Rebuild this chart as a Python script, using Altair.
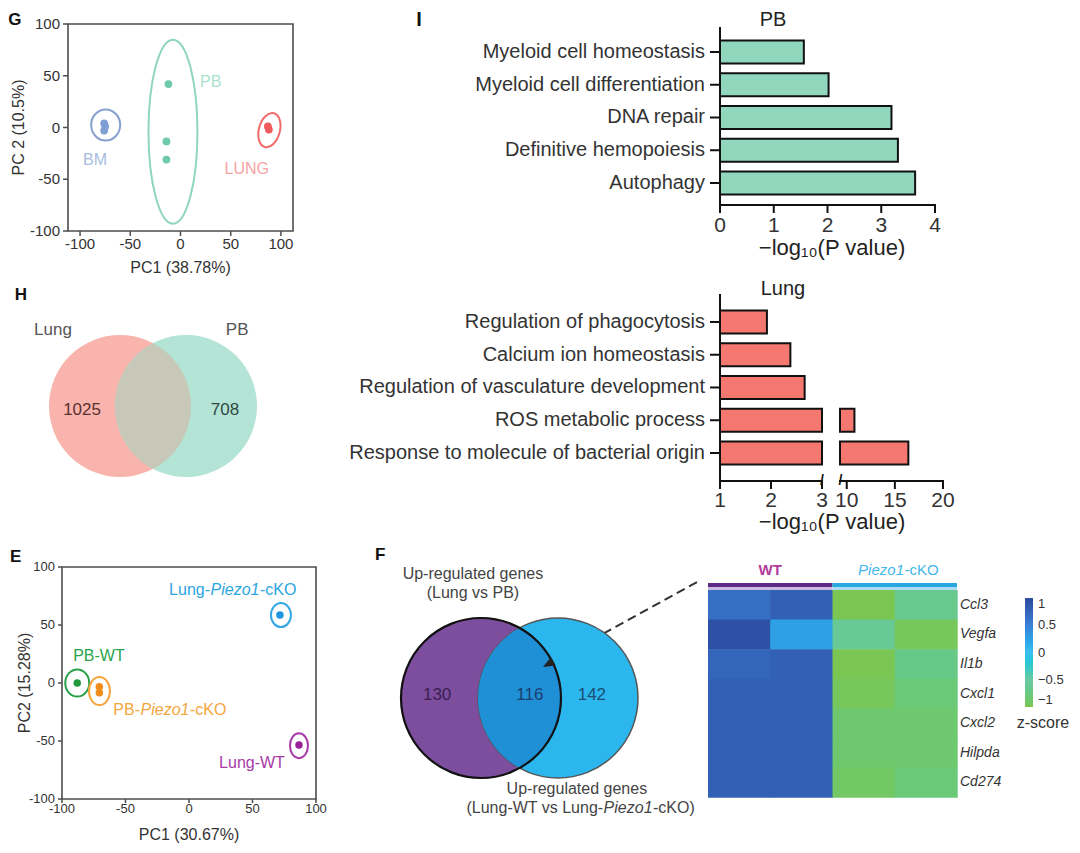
import altair as alt
import pandas as pd

PAD = 5
W, H = 1064 - 2 * PAD, 837 - 2 * PAD
FONT = "Liberation Sans"
INK = "#333333"


def px(v):
    """page pixel -> chart pixel (8px page margin + padding)"""
    return v - 8 - PAD


# ============================ DATA ============================
# G : PCA of BM / PB / LUNG samples
g_group = ["BM", "BM", "BM", "PB", "PB", "PB", "LUNG", "LUNG"]
g_pc1 = [-76, -75, -76, -12, -14, -14, 87, 88]
g_pc2 = [4, 1, -3, 42, -13.5, -31, 1, -2]
g_ell_group = ["BM", "PB", "LUNG"]
g_ell_pc1 = [-74.5, -7.5, 88.5]
g_ell_pc2 = [2.4, -4.0, -2.5]
g_ticks = [-100, -50, 0, 50, 100]

# I : GO enrichment (-log10 P)
pb_terms = ["Myeloid cell homeostasis", "Myeloid cell differentiation", "DNA repair",
            "Definitive hemopoiesis", "Autophagy"]
pb_vals = [1.56, 2.02, 3.19, 3.31, 3.63]
pb_ticks = [0, 1, 2, 3, 4]
lung_terms = ["Regulation of phagocytosis", "Calcium ion homeostasis",
              "Regulation of vasculature development", "ROS metabolic process",
              "Response to molecule of bacterial origin"]
lung_vals = [1.92, 2.38, 2.66, 10.8, 16.4]
lung_ticks_low = [1, 2, 3]
lung_ticks_high = [10, 15, 20]
lung_low_dom = [1, 3]
lung_high_dom = [9.3, 20]

# H : Venn
h_sets = ["Lung", "PB"]
h_only = [1025, 708]

# E : PCA WT / Piezo1-cKO
e_group = ["PB-WT", "PB-Piezo1-cKO", "PB-Piezo1-cKO", "Lung-Piezo1-cKO", "Lung-WT"]
e_pc1 = [-88, -70.6, -70.6, 71.6, 86.6]
e_pc2 = [0, -3.2, -8.4, 58.6, -53.4]
e_ell_group = ["PB-WT", "PB-Piezo1-cKO", "Lung-Piezo1-cKO", "Lung-WT"]
e_ell_pc1 = [-88, -70.5, 72.4, 86.6]
e_ell_pc2 = [0, -7, 58.6, -54]

# F : Venn + heatmap
f_counts = [130, 116, 142]
hm_genes = ["Ccl3", "Vegfa", "Il1b", "Cxcl1", "Cxcl2", "Hilpda", "Cd274"]
hm_samples = ["WT-1", "WT-2", "cKO-1", "cKO-2"]
hm_z = [
    [0.65, 0.80, -1.00, -0.65],
    [0.95, 0.25, -0.60, -0.95],
    [0.75, 0.80, -1.00, -0.70],
    [0.80, 0.80, -0.95, -0.80],
    [0.80, 0.80, -0.85, -0.85],
    [0.80, 0.80, -0.85, -0.85],
    [0.80, 0.80, -0.90, -0.80],
]
z_ticks = [1, 0.5, 0, -0.5, -1]

# ============================ STYLE ============================
G_POINT = {"BM": "#7f9fd4", "PB": "#6ecaa8", "LUNG": "#f05a5a"}
G_LINE = {"BM": "#86a0cf", "PB": "#8fd6bc", "LUNG": "#f26b6b"}
G_TEXT = {"BM": "#a7bce0", "PB": "#a8e2cd", "LUNG": "#f6a3a3"}
G_ELL = {"BM": (14.5, 15.5, 0), "PB": (24.5, 92, 0), "LUNG": (10.5, 17.5, 15)}
G_LAB = {"BM": (-85, -31), "PB": (30, 43.5), "LUNG": (66, -40.5)}

E_POINT = {"PB-WT": "#1f9a3c", "PB-Piezo1-cKO": "#f08c1a", "Lung-Piezo1-cKO": "#1f96e0", "Lung-WT": "#99209b"}
E_LINE = {"PB-WT": "#2aa04a", "PB-Piezo1-cKO": "#f6a43c", "Lung-Piezo1-cKO": "#35a8e8", "Lung-WT": "#a83aa8"}
E_TEXT = {"PB-WT": "#2aa34a", "PB-Piezo1-cKO": "#f4a640", "Lung-Piezo1-cKO": "#2ba6e0", "Lung-WT": "#a63aa6"}
E_ELL = {"PB-WT": (12, 13.5), "PB-Piezo1-cKO": (10.5, 14), "Lung-Piezo1-cKO": (10, 12), "Lung-WT": (9, 12.5)}
E_LAB = {"PB-WT": (-70.9, 23.3), "Lung-WT": (49.6, -69), "Lung-Piezo1-cKO": (36.2, 80),
         "PB-Piezo1-cKO": (-18.9, -23.3)}

PB_FILL = "#91d7be"
LUNG_FILL = "#f47870"
BAR_HALF = 0.351
CAT_SIZE = 20
TICK_SIZE = 21
H_PINK, H_GREEN, H_LENS = "#f9b4ad", "#b4e4d6", "#c7c8b8"
F_PURPLE, F_BLUE, F_LENS = "#7d4d9e", "#2bb6ee", "#1f8fd6"
HM_COLORS = ["#7bc652", "#6bc9a2", "#3dbff0", "#3a80d6", "#2c4c9e"]
FRAME = "#4d4d4d"
BLACK = "#111111"

one = pd.DataFrame({"k": [0]})


def qscale(domain, rng):
    return alt.Scale(domain=domain, range=rng, nice=False, zero=False)


def ellipse_path(rx, ry):
    a = rx / ry
    return f"M {-a:.4f} 0 A {a:.4f} 1 0 1 0 {a:.4f} 0 A {a:.4f} 1 0 1 0 {-a:.4f} 0 Z"


def lens_path(r, d):
    h = ((r * r - (d / 2) ** 2) ** 0.5) / r
    return f"M 0 {-h:.4f} A 1 1 0 0 1 0 {h:.4f} A 1 1 0 0 1 0 {-h:.4f} Z"


ARROW_HEAD = "M 0 -1 L 0.7 0.7 L -0.7 0.7 Z"


def xy(xs, ys, xf="x", yf="y"):
    return dict(x=alt.X(f"{xf}:Q", scale=xs, axis=None), y=alt.Y(f"{yf}:Q", scale=ys, axis=None))


def texts(df, xs, ys, size, weight="normal", style="normal", align="center", dx=0, dy=0, angle=0):
    return alt.Chart(df).mark_text(font=FONT, fontSize=size, fontWeight=weight, fontStyle=style,
                                   align=align, baseline="middle", dx=dx, dy=dy, angle=angle).encode(
        text=alt.Text("text:N"), color=alt.Color("color:N", scale=None), **xy(xs, ys))


def note(t, x, y, xs, ys, size, color=INK, **kw):
    df = pd.DataFrame({"text": [t], "x": [x], "y": [y], "color": [color]})
    return texts(df, xs, ys, size, **kw)


def piezo_texts(df, xs, ys, size):
    half = 3.057 * size / 2 + 0.5
    enc = dict(color=alt.Color("color:N", scale=None), **xy(xs, ys))
    base = alt.Chart(df)
    pre = base.mark_text(font=FONT, fontSize=size, align="right", baseline="middle", dx=-half).encode(
        text="pre:N", **enc)
    mid = base.mark_text(font=FONT, fontSize=size, fontStyle="italic", align="center", baseline="middle").encode(
        text="mid:N", **enc)
    suf = base.mark_text(font=FONT, fontSize=size, align="left", baseline="middle", dx=half).encode(
        text="suf:N", **enc)
    return [pre, mid, suf]


def split_piezo(name):
    if "Piezo1" in name:
        a, b = name.split("Piezo1")
        return a, "Piezo1", b
    return name, "", ""


def ellipses(groups, cx, cy, radii, colors, xs, ys, sw=2):
    df = pd.DataFrame({"x": cx, "y": cy})
    df["shape"] = [ellipse_path(radii[g][0], radii[g][1]) for g in groups]
    df["size"] = [(2 * radii[g][1]) ** 2 for g in groups]
    df["angle"] = [radii[g][2] if len(radii[g]) > 2 else 0 for g in groups]
    df["color"] = [colors[g] for g in groups]
    return alt.Chart(df).mark_point(filled=False, strokeWidth=sw, opacity=1).encode(
        shape=alt.Shape("shape:N", scale=None), size=alt.Size("size:Q", scale=None),
        angle=alt.Angle("angle:Q", scale=None), color=alt.Color("color:N", scale=None), **xy(xs, ys))


def letter(t, x, y, xs, ys, size=17):
    return note(t, x, y, xs, ys, size, color=BLACK, weight="bold")


def frame(x0, x1, y0, y1, xs, ys, color=FRAME, width=1.6):
    return alt.Chart(one).mark_rect(fillOpacity=0, stroke=color, strokeWidth=width).encode(
        x=alt.XDatum(x0, scale=xs, axis=None), x2=alt.datum(x1),
        y=alt.YDatum(y0, scale=ys, axis=None), y2=alt.datum(y1))


def hline(x0, x1, y, xs, ys, color=BLACK, width=2):
    return alt.Chart(one).mark_rule(color=color, strokeWidth=width, strokeCap="square").encode(
        x=alt.XDatum(x0, scale=xs, axis=None), x2=alt.datum(x1), y=alt.YDatum(y, scale=ys, axis=None))


def vline(x, y0, y1, xs, ys, color=BLACK, width=2):
    return alt.Chart(one).mark_rule(color=color, strokeWidth=width, strokeCap="square").encode(
        x=alt.XDatum(x, scale=xs, axis=None), y=alt.YDatum(y0, scale=ys, axis=None), y2=alt.datum(y1))


def ticks_x(vals, xs, ys, y_at, length, width, label_dy, size, color, labels=None):
    df = pd.DataFrame({"v": vals, "text": labels if labels is not None else [str(v) for v in vals]})
    enc = dict(x=alt.X("v:Q", scale=xs, axis=None), y=alt.YDatum(y_at, scale=ys, axis=None))
    t = alt.Chart(df).mark_tick(orient="vertical", size=length, thickness=width, yOffset=length / 2,
                                color=color, opacity=1).encode(**enc)
    lab = alt.Chart(df).mark_text(font=FONT, fontSize=size, dy=label_dy, color=INK,
                                  baseline="middle").encode(text="text:N", **enc)
    return [t, lab]


def ticks_y(vals, xs, ys, x_at, length, width, label_dx, size, color, labels=None):
    df = pd.DataFrame({"v": vals, "text": labels if labels is not None else [str(v) for v in vals]})
    enc = dict(y=alt.Y("v:Q", scale=ys, axis=None), x=alt.XDatum(x_at, scale=xs, axis=None))
    t = alt.Chart(df).mark_tick(orient="horizontal", size=length, thickness=width, xOffset=-length / 2,
                                color=color, opacity=1).encode(**enc)
    lab = alt.Chart(df).mark_text(font=FONT, fontSize=size, dx=label_dx, align="right", color=INK,
                                  baseline="middle").encode(text="text:N", **enc)
    return [t, lab]


# ============================ PANEL G ============================
gx = qscale([-112, 112], [px(68), px(293)])
gy = qscale([-100, 100], [px(231), px(24)])
g_df = pd.DataFrame({"grp": g_group, "x": g_pc1, "y": g_pc2})
g_df["color"] = g_df["grp"].map(G_POINT)
g_lab = pd.DataFrame({"text": g_ell_group, "x": [G_LAB[g][0] for g in g_ell_group],
                      "y": [G_LAB[g][1] for g in g_ell_group], "color": [G_TEXT[g] for g in g_ell_group]})
g_panel = alt.layer(
    frame(-112, 112, -100, 100, gx, gy),
    *ticks_x(g_ticks, gx, gy, -100, 5, 1.5, 13, 15, FRAME),
    *ticks_y(g_ticks, gx, gy, -112, 5, 1.5, -8, 15, FRAME),
    note("PC1 (38.78%)", 0, -100, gx, gy, 16, dy=37),
    note("PC 2 (10.5%)", -161, 0, gx, gy, 16, angle=270),
    ellipses(g_ell_group, g_ell_pc1, g_ell_pc2, G_ELL, G_LINE, gx, gy),
    alt.Chart(g_df).mark_circle(size=60, opacity=1).encode(color=alt.Color("color:N", scale=None), **xy(gx, gy)),
    texts(g_lab, gx, gy, 16),
    letter("G", -165, 104, gx, gy),
)

# ============================ PANEL I (PB) ============================
pbx = qscale([0, 4], [px(720), px(935)])
pby = qscale([-0.733, 4.672], [px(28), px(205)])
pb_df = pd.DataFrame({"term": pb_terms, "v": pb_vals, "i": range(len(pb_terms))})
pb_df["start"] = 0
pb_df["y0"] = pb_df["i"] - BAR_HALF
pb_df["y1"] = pb_df["i"] + BAR_HALF
pb_panel = alt.layer(
    alt.Chart(pb_df).mark_rect(fill=PB_FILL, stroke=BLACK, strokeWidth=2).encode(
        x=alt.X("start:Q", scale=pbx, axis=None), x2="v:Q",
        y=alt.Y("y0:Q", scale=pby, axis=None), y2="y1:Q"),
    vline(0, -0.733, 4.672, pbx, pby),
    hline(0, 4, 4.672, pbx, pby),
    *ticks_x(pb_ticks, pbx, pby, 4.672, 8, 2, 21, TICK_SIZE, BLACK),
    *ticks_y(list(range(len(pb_terms))), pbx, pby, 0, 10, 2, -15, CAT_SIZE, BLACK, labels=pb_terms),
    note("PB", 0.986, -0.99, pbx, pby, 20, color="#222"),
    note("I", -5.6, -0.99, pbx, pby, 20, color=BLACK, weight="bold"),
    note("\u2212log\u2081\u2080(P value)", 2.084, 4.672, pbx, pby, 22, color="#222", dy=43),
)

# ============================ PANEL I (Lung, broken axis) ============================
lx1 = qscale(lung_low_dom, [px(720), px(822)])
lx2 = qscale(lung_high_dom, [px(840), px(943)])
LY = [-0.824, 4.855]
ly = qscale(LY, [px(295), px(481)])
idx = list(range(len(lung_terms)))
low_df = pd.DataFrame({"term": lung_terms, "i": idx, "start": lung_low_dom[0],
                       "end": [min(v, lung_low_dom[1]) for v in lung_vals]})
low_df["y0"] = low_df["i"] - BAR_HALF
low_df["y1"] = low_df["i"] + BAR_HALF
high_df = low_df[[v > lung_low_dom[1] for v in lung_vals]].copy()
high_df["start"] = lung_high_dom[0]
high_df["end"] = [v for v in lung_vals if v > lung_low_dom[1]]
lung_left = alt.layer(
    alt.Chart(low_df).mark_rect(fill=LUNG_FILL, stroke=BLACK, strokeWidth=2).encode(
        x=alt.X("start:Q", scale=lx1, axis=None), x2="end:Q",
        y=alt.Y("y0:Q", scale=ly, axis=None), y2="y1:Q"),
    vline(lung_low_dom[0], LY[0], LY[1], lx1, ly),
    hline(lung_low_dom[0], lung_low_dom[1], LY[1], lx1, ly),
    *ticks_x(lung_ticks_low, lx1, ly, LY[1], 8, 2, 20, TICK_SIZE, BLACK),
    *ticks_y(idx, lx1, ly, lung_low_dom[0], 10, 2, -15, CAT_SIZE, BLACK, labels=lung_terms),
    note("Lung", 2.235, -1.02, lx1, ly, 20, color="#222"),
    note("/", lung_low_dom[1], LY[1], lx1, ly, 14, color=BLACK, weight="bold"),
)
lung_right = alt.layer(
    alt.Chart(high_df).mark_rect(fill=LUNG_FILL, stroke=BLACK, strokeWidth=2).encode(
        x=alt.X("start:Q", scale=lx2, axis=None), x2="end:Q",
        y=alt.Y("y0:Q", scale=ly, axis=None), y2="y1:Q"),
    hline(lung_high_dom[0], lung_high_dom[1], LY[1], lx2, ly),
    *ticks_x(lung_ticks_high, lx2, ly, LY[1], 8, 2, 20, TICK_SIZE, BLACK),
    note("/", lung_high_dom[0] + 0.05, LY[1], lx2, ly, 14, color=BLACK, weight="bold"),
    note("\u2212log\u2081\u2080(P value)", 8.47, LY[1], lx2, ly, 22, color="#222", dy=41),
)

# ============================ PANEL H ============================
hx = qscale([-1, 1], [px(120), px(186)])
hy = qscale([-1, 1], [px(439), px(373)])
h_circ = pd.DataFrame({"x": [-1, 1], "y": [0, 0], "color": [H_PINK, H_GREEN]})
h_lab = pd.DataFrame({"text": h_sets, "x": [-3.03, 2.55], "y": [2.3, 2.3], "color": ["#555", "#555"]})
h_num = pd.DataFrame({"text": [str(v) for v in h_only], "x": [-2.15, 2.18], "y": [-0.12, -0.12],
                      "color": ["#5b3030", "#2e4a44"]})
h_panel = alt.layer(
    alt.Chart(h_circ).mark_point(shape="circle", filled=True, size=142 ** 2, opacity=1).encode(
        color=alt.Color("color:N", scale=None), **xy(hx, hy)),
    alt.Chart(one).mark_point(shape=lens_path(71, 66), filled=True, size=142 ** 2, opacity=1,
                              color=H_LENS).encode(
        x=alt.XDatum(0, scale=hx, axis=None), y=alt.YDatum(0, scale=hy, axis=None)),
    texts(h_lab, hx, hy, 17),
    texts(h_num, hx, hy, 17),
    letter("H", -4.0, 3.36, hx, hy),
)

# ============================ PANEL E ============================
ex = qscale([-100, 100], [px(62), px(316)])
ey = qscale([-100, 100], [px(799), px(567)])
e_df = pd.DataFrame({"grp": e_group, "x": e_pc1, "y": e_pc2})
e_df["color"] = e_df["grp"].map(E_POINT)
e_lab = pd.DataFrame({"name": e_ell_group})
e_lab["x"] = [E_LAB[g][0] for g in e_ell_group]
e_lab["y"] = [E_LAB[g][1] for g in e_ell_group]
e_lab["color"] = [E_TEXT[g] for g in e_ell_group]
parts = [split_piezo(g) for g in e_ell_group]
e_lab["pre"] = [p[0] for p in parts]
e_lab["mid"] = [p[1] for p in parts]
e_lab["suf"] = [p[2] for p in parts]
e_plain = e_lab[e_lab["mid"] == ""].rename(columns={"pre": "text"})
e_piezo = e_lab[e_lab["mid"] != ""]
e_panel = alt.layer(
    frame(-100, 100, -100, 100, ex, ey),
    *ticks_x(g_ticks, ex, ey, -100, 4, 1.5, 10, 13, FRAME),
    *ticks_y(g_ticks, ex, ey, -100, 4, 1.5, -7, 13, FRAME),
    note("PC1 (30.67%)", 0, -100, ex, ey, 16, dy=36),
    note("PC2 (15.28%)", -129, 0, ex, ey, 16, angle=270),
    ellipses(e_ell_group, e_ell_pc1, e_ell_pc2, E_ELL, E_LINE, ex, ey),
    alt.Chart(e_df).mark_circle(size=56, opacity=1).encode(color=alt.Color("color:N", scale=None), **xy(ex, ey)),
    texts(e_plain, ex, ey, 16),
    *piezo_texts(e_piezo, ex, ey, 16),
    letter("E", -136.5, 108.5, ex, ey),
)

# ============================ PANEL F (Venn) ============================
fx = qscale([-1, 1], [px(481), px(558)])
fy = qscale([-1, 1], [px(736.5), px(659.5)])
f_circ = pd.DataFrame({"x": [-1, 1], "y": [0, 0], "color": [F_PURPLE, F_BLUE]})
f_num = pd.DataFrame({"text": [str(v) for v in f_counts], "x": [-2.14, 0.27, 1.88], "y": [0.08] * 3,
                      "color": ["#3a1f52", "#1a3f6e", "#1d4f73"]})
f_txt = pd.DataFrame({"text": ["Up-regulated genes", "(Lung vs PB)", "Up-regulated genes"],
                      "x": [-1.21, -1.21, 1.49], "y": [3.22, 2.73, -2.36], "color": ["#444"] * 3})
f_piezo = pd.DataFrame({"pre": ["(Lung-WT vs Lung-"], "mid": ["Piezo1"], "suf": ["-cKO)"],
                        "x": [2.82], "y": [-2.86], "color": ["#444"]})
arrow = pd.DataFrame({"x": [4.61], "y": [3.01], "x2": [0.769], "y2": [0.894], "angle": [241]})
FS = 25600
f_panel = alt.layer(
    alt.Chart(arrow).mark_rule(stroke="#333", strokeWidth=2, strokeDash=[9, 5]).encode(
        x=alt.X("x:Q", scale=fx, axis=None), y=alt.Y("y:Q", scale=fy, axis=None), x2="x2:Q", y2="y2:Q"),
    alt.Chart(f_circ).mark_point(shape="circle", filled=True, size=FS, opacity=1).encode(
        color=alt.Color("color:N", scale=None), **xy(fx, fy)),
    alt.Chart(f_circ.iloc[[1]]).mark_point(shape="circle", filled=False, size=FS, opacity=1,
                                           color="#555", strokeWidth=1.5).encode(**xy(fx, fy)),
    alt.Chart(one).mark_point(shape=lens_path(80, 77), filled=True, size=FS, opacity=1, color=F_LENS).encode(
        x=alt.XDatum(0, scale=fx, axis=None), y=alt.YDatum(0, scale=fy, axis=None)),
    alt.Chart(f_circ.iloc[[0]]).mark_point(shape="circle", filled=False, size=FS, opacity=1,
                                           color=BLACK, strokeWidth=2.2).encode(**xy(fx, fy)),
    alt.Chart(arrow).mark_point(shape=ARROW_HEAD, filled=True, size=196, opacity=1, color="#222").encode(
        x=alt.X("x2:Q", scale=fx, axis=None), y=alt.Y("y2:Q", scale=fy, axis=None),
        angle=alt.Angle("angle:Q", scale=None)),
    texts(f_num, fx, fy, 17),
    texts(f_txt, fx, fy, 16),
    *piezo_texts(f_piezo, fx, fy, 16),
    letter("F", -3.62, 3.71, fx, fy),
)

# ============================ PANEL F (heatmap) ============================
hmx = qscale([0, 4], [px(708), px(957)])
hmy = qscale([0, 7], [px(590), px(797)])
rows = []
for j, g in enumerate(hm_genes):
    for i, s in enumerate(hm_samples):
        rows.append({"gene": g, "sample": s, "c0": i, "c1": i + 1, "r0": j, "r1": j + 1, "z": hm_z[j][i]})
hm_df = pd.DataFrame(rows)
hm_scale = alt.Scale(domain=[-1, -0.5, 0, 0.5, 1], range=HM_COLORS, nice=False, zero=False)
cells = alt.Chart(hm_df).mark_rect(strokeWidth=0, x2Offset=0.7, y2Offset=0.7).encode(
    x=alt.X("c0:Q", scale=hmx, axis=None), x2="c1:Q",
    y=alt.Y("r0:Q", scale=hmy, axis=None), y2="r1:Q",
    color=alt.Color("z:Q", scale=hm_scale,
                    legend=alt.Legend(orient="none", legendX=px(1025), legendY=px(598), direction="vertical",
                                      title=None, gradientLength=109, gradientThickness=8,
                                      gradientStrokeWidth=0, values=z_ticks, format=".1~f", labelFont=FONT,
                                      labelFontSize=13, labelColor=INK, labelOffset=5, padding=0)))
hdr = pd.DataFrame({"x": [0, 2, 0, 2], "x2": [2, 4, 2, 4], "y": [-0.237, -0.237, -0.10, -0.10],
                    "y2": [-0.10, -0.10, 0, 0], "color": ["#5e2c88", "#29a8e0", "#cbbbe3", "#abdcf4"]})
hdr_bars = alt.Chart(hdr).mark_rect(strokeWidth=0).encode(
    x=alt.X("x:Q", scale=hmx, axis=None), x2="x2:Q", y=alt.Y("y:Q", scale=hmy, axis=None), y2="y2:Q",
    color=alt.Color("color:N", scale=None))
gene_lab = pd.DataFrame({"text": hm_genes, "x": [4] * len(hm_genes),
                         "y": [j + 0.5 for j in range(len(hm_genes))], "color": [INK] * len(hm_genes)})
ko_lab = pd.DataFrame({"pre": [""], "mid": ["Piezo1"], "suf": ["-cKO"], "x": [2.78], "y": [-0.68],
                       "color": ["#45b7e8"]})
hm_panel = alt.layer(
    cells,
    hdr_bars,
    texts(gene_lab, hmx, hmy, 14, style="italic", align="left", dx=3),
    note("WT", 1.0, -0.68, hmx, hmy, 15, color="#b23b9c", weight="bold"),
    *piezo_texts(ko_lab, hmx, hmy, 15),
    note("z-score", 5.38, 4.5, hmx, hmy, 16),
)

# ============================ ASSEMBLE ============================
chart = alt.layer(
    g_panel, pb_panel, lung_left, lung_right, h_panel, e_panel, f_panel, hm_panel
).resolve_scale(
    x="independent", y="independent", color="independent"
).properties(
    width=W, height=H, padding=PAD, background="white",
    autosize=alt.AutoSizeParams(type="none"),
).configure_view(stroke=None)

chart.save("out.html", embed_options={"renderer": "svg", "actions": False})
